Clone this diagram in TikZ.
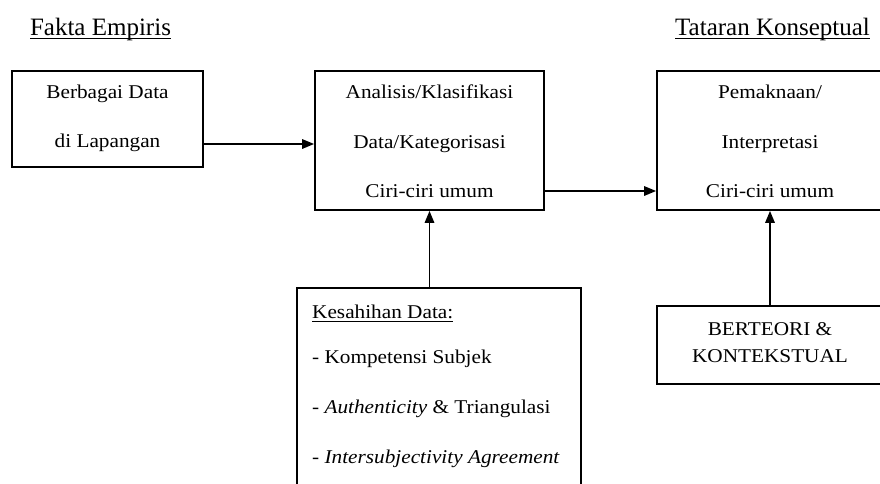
\documentclass[tikz,border=0pt]{standalone}
\usepackage{fontspec}
\setmainfont{Liberation Serif}
\usepackage{graphicx}
\usetikzlibrary{arrows.meta}
\newcommand{\wx}[1]{\scalebox{1.09}[1]{#1}}
\newcommand{\ulx}[1]{\setbox0\hbox{#1}\rlap{\rule[-3.5pt]{\wd0}{1pt}}\box0}
\tikzset{
  box/.style={draw, line width=1.8pt, rectangle, inner sep=0pt},
  body/.style={inner sep=0pt, font=\fontsize{19.5}{23}\selectfont},
  head/.style={inner sep=0pt, font=\fontsize{25}{30}\selectfont},
  arr/.style={line width=1.6pt, -{Triangle[length=12pt,width=9.5pt]}}
}
\begin{document}
\begin{tikzpicture}[x=1pt,y=-1pt]
\useasboundingbox (0,0) rectangle (880,483);
\clip (0,0) rectangle (880,483);
\fill[white] (0,0) rectangle (880,483);

% titles
\node[head, anchor=base] (t1) at (100.5,35) {\ulx{Fakta Empiris}};
\node[head, anchor=base] (t2) at (772.5,35) {\ulx{Tataran Konseptual}};

% boxes
\node[box, minimum width=191, minimum height=96] (b1) at (107.5,119) {};
\node[box, minimum width=229, minimum height=139] (b2) at (429.5,140.5) {};
\node[box, minimum width=226, minimum height=139] (b3) at (770,140.5) {};
\node[box, minimum width=284, minimum height=212] (b4) at (439,394) {};
\node[box, minimum width=226, minimum height=78] (b5) at (770,345) {};

% box texts
\node[body, anchor=base] (b1a) at (107.5,98) {\wx{Berbagai Data}};
\node[body, anchor=base] (b1b) at (107.5,147) {\wx{di Lapangan}};

\node[body, anchor=base] (b2a) at (429.5,98) {\wx{Analisis/Klasifikasi}};
\node[body, anchor=base] (b2b) at (429.5,148) {\wx{Data/Kategorisasi}};
\node[body, anchor=base] (b2c) at (429.5,197) {\wx{Ciri-ciri umum}};

\node[body, anchor=base] (b3a) at (770,98) {\wx{Pemaknaan/}};
\node[body, anchor=base] (b3b) at (770,148) {\wx{Interpretasi}};
\node[body, anchor=base] (b3c) at (770,197) {\wx{Ciri-ciri umum}};

\node[body, anchor=base west] (b4a) at (312,318) {\wx{\ulx{Kesahihan Data:}}};
\node[body, anchor=base west] (b4b) at (312,363) {\wx{- Kompetensi Subjek}};
\node[body, anchor=base west] (b4c) at (312,413) {\wx{- \textit{Authenticity} \& Triangulasi}};
\node[body, anchor=base west] (b4d) at (312,463) {\wx{- \textit{Intersubjectivity Agreement}}};

\node[body, anchor=base] (b5a) at (770,335) {\wx{BERTEORI \&}};
\node[body, anchor=base] (b5b) at (770,362) {\wx{KONTEKSTUAL}};

% connectors
\draw[arr] ([yshift=-25pt]b1.east) -- ([yshift=-3.5pt]b2.west);
\draw[arr] ([yshift=-50.5pt]b2.east) -- ([yshift=-50.5pt]b3.west);
\draw[arr] (b4.north -| b2.south) -- (b2.south);
\draw[arr] (b5.north) -- (b3.south);
\end{tikzpicture}
\end{document}
